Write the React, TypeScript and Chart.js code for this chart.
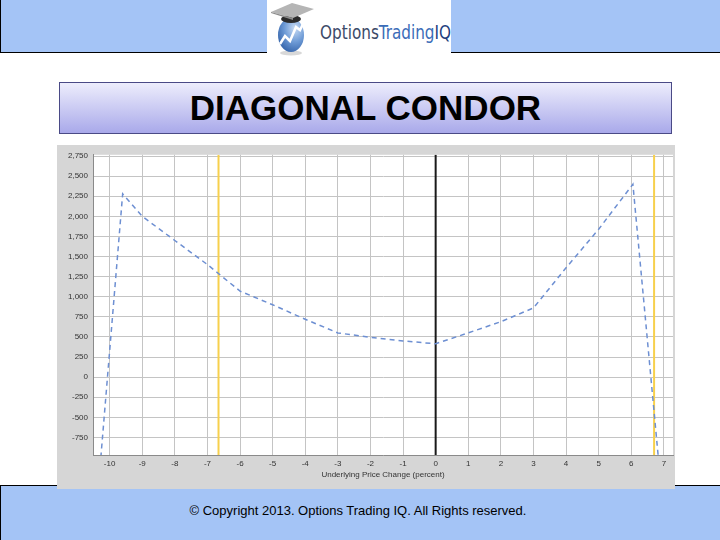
import React, { useEffect, useRef } from "react";
import { Chart, registerables } from "chart.js";

Chart.register(...registerables);

// ---- Data ----
const priceChange = [-10.27, -9.6, -9, -8, -7, -6, -5, -4, -3, -2, -1, 0, 1, 2, 3, 4, 5, 6.05, 6.83];
const profitLoss = [-1000, 2280, 2000, 1700, 1400, 1070, 900, 720, 550, 495, 450, 415, 550, 690, 860, 1360, 1840, 2400, -1000];

const xTickValues = [-10, -9, -8, -7, -6, -5, -4, -3, -2, -1, 0, 1, 2, 3, 4, 5, 6, 7];
const yTickValues = [-750, -500, -250, 0, 250, 500, 750, 1000, 1250, 1500, 1750, 2000, 2250, 2500, 2750];

const xRange = [-10.51, 7.28];
const yRange = [-969, 2766];

const expiryMarkers = [-6.66, 6.7];
const currentMarker = [0];

const xAxisTitle = "Underlying Price Change (percent)";
const slideTitle = "DIAGONAL CONDOR";
const copyrightText = "\u00A9 Copyright 2013. Options Trading IQ. All Rights reserved.";

const FONT = "'Liberation Sans', Arial, sans-serif";
const BAR_BLUE = "#a4c4f6";

const plotBackground = {
  id: "plotBackground",
  beforeDraw(chart: any) {
    const { ctx, chartArea, width, height } = chart;
    ctx.save();
    ctx.fillStyle = "#d6d6d6";
    ctx.fillRect(0, 0, width, height);
    ctx.fillStyle = "#ffffff";
    ctx.fillRect(chartArea.left, chartArea.top, chartArea.right - chartArea.left, chartArea.bottom - chartArea.top);
    ctx.restore();
  },
};

function markerDataset(x: number, color: string, width: number) {
  return {
    data: [
      { x, y: yRange[0] },
      { x, y: yRange[1] },
    ],
    borderColor: color,
    borderWidth: width,
    pointRadius: 0,
    fill: false,
  };
}

function PayoffChart() {
  const ref = useRef<HTMLCanvasElement | null>(null);
  useEffect(() => {
    if (!ref.current) return;
    const chart = new Chart(ref.current, {
      type: "line",
      data: {
        datasets: [
          {
            data: priceChange.map((x, i) => ({ x, y: profitLoss[i] })),
            borderColor: "#6d8fd2",
            borderWidth: 1.5,
            borderDash: [5, 4],
            pointRadius: 0,
            tension: 0,
            fill: false,
          },
          ...expiryMarkers.map((x) => markerDataset(x, "#f7d04c", 2)),
          ...currentMarker.map((x) => markerDataset(x, "#1a1a1a", 2)),
        ],
      } as any,
      options: {
        animation: false,
        responsive: false,
        maintainAspectRatio: false,
        layout: { padding: { left: 0, right: 2, top: 8, bottom: 0 } },
        plugins: { legend: { display: false }, tooltip: { enabled: false } },
        scales: {
          x: {
            type: "linear",
            min: xRange[0],
            max: xRange[1],
            afterBuildTicks: (scale: any) => {
              scale.ticks = xTickValues.map((v) => ({ value: v }));
            },
            afterFit: (scale: any) => {
              scale.height = 34;
            },
            grid: { color: "#c4c4c4", lineWidth: 1, drawTicks: false },
            border: { display: true, color: "#8a8a8a", width: 1 },
            ticks: {
              padding: 4,
              color: "#333333",
              font: { family: FONT, size: 8 },
              maxRotation: 0,
              callback: (v: any) => String(v),
            },
            title: {
              display: true,
              text: xAxisTitle,
              color: "#333333",
              font: { family: FONT, size: 8 },
              padding: { top: 2, bottom: 9 },
            },
          },
          y: {
            type: "linear",
            min: yRange[0],
            max: yRange[1],
            afterBuildTicks: (scale: any) => {
              scale.ticks = yTickValues.map((v) => ({ value: v }));
            },
            afterFit: (scale: any) => {
              scale.width = 36;
            },
            grid: { color: "#c4c4c4", lineWidth: 1, drawTicks: false },
            border: { display: true, color: "#8a8a8a", width: 1 },
            ticks: {
              padding: 5,
              color: "#333333",
              font: { family: FONT, size: 8 },
              callback: (v: any) => Number(v).toLocaleString("en-US"),
            },
          },
        },
      } as any,
      plugins: [plotBackground],
    });
    return () => chart.destroy();
  }, []);
  return (
    <canvas
      ref={ref}
      width={618}
      height={344}
      style={{ position: "absolute", left: 57, top: 145, width: 618, height: 344 }}
    />
  );
}

function Logo() {
  return (
    <svg
      width={184}
      height={56}
      viewBox="0 0 184 56"
      style={{ position: "absolute", left: 267, top: 0, background: "#ffffff" }}
    >
      <defs>
        <radialGradient id="globe" cx="0.65" cy="0.3" r="0.9">
          <stop offset="0" stopColor="#c9dcf4" />
          <stop offset="0.45" stopColor="#6e9bd6" />
          <stop offset="1" stopColor="#1f4f9a" />
        </radialGradient>
      </defs>
      <ellipse cx="24" cy="53" rx="11" ry="2.5" fill="#d8d8d8" />
      <ellipse cx="24" cy="35" rx="13" ry="17" fill="url(#globe)" />
      <polyline
        points="13,44 18,36 23,41 29,27 33,30 37,22"
        fill="none"
        stroke="#ffffff"
        strokeWidth="2.5"
      />
      <ellipse cx="24" cy="19" rx="10" ry="4" fill="#2b2b2b" />
      <polygon points="4,12 25,3 47,9 26,18" fill="#b5b5b5" />
      <polygon points="4,12 26,18 26,20 4,13" fill="#8c8c8c" />
      <text
        x="53"
        y="39"
        fontFamily="'Liberation Sans Narrow', 'DejaVu Sans Condensed', Arial, sans-serif"
        fontSize="19"
        textLength="131"
        lengthAdjust="spacingAndGlyphs"
      >
        <tspan fill="#3c4a68">Options</tspan>
        <tspan fill="#3a6cb8">Trading</tspan>
        <tspan fill="#1f3f7f">IQ</tspan>
      </text>
    </svg>
  );
}

export default function App() {
  return (
    <div
      style={{
        position: "fixed",
        left: 0,
        top: 0,
        width: 720,
        height: 540,
        background: "#ffffff",
        overflow: "hidden",
        fontFamily: FONT,
      }}
    >
      <div
        style={{
          position: "absolute",
          left: 0,
          top: 0,
          width: 720,
          height: 53,
          background: BAR_BLUE,
          borderLeft: "1px solid #000",
          borderBottom: "1px solid #000",
          boxSizing: "border-box",
        }}
      />
      <Logo />
      <div
        style={{
          position: "absolute",
          left: 59,
          top: 82,
          width: 613,
          height: 52,
          boxSizing: "border-box",
          border: "1px solid #4a4a86",
          background: "linear-gradient(to bottom, #ededfc, #a9a9ea)",
          display: "flex",
          alignItems: "center",
          justifyContent: "center",
          fontWeight: "bold",
          fontSize: 35,
          color: "#000",
        }}
      >
        {slideTitle}
      </div>
      <div
        style={{
          position: "absolute",
          left: 0,
          top: 485,
          width: 720,
          height: 55,
          background: BAR_BLUE,
          borderLeft: "1px solid #000",
          borderTop: "1px solid #000",
          boxSizing: "border-box",
        }}
      />
      <div
        style={{
          position: "absolute",
          left: 0,
          top: 503,
          width: 716,
          textAlign: "center",
          fontSize: 13,
          color: "#000",
        }}
      >
        {copyrightText}
      </div>
      <PayoffChart />
    </div>
  );
}
